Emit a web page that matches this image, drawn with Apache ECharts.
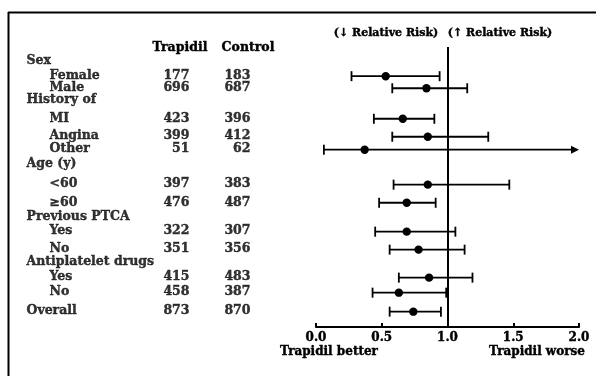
<!DOCTYPE html>
<html>
<head>
<meta charset="utf-8">
<script src="https://cdn.jsdelivr.net/npm/echarts@6/dist/echarts.min.js"></script>
<style>html,body{margin:0;padding:0;background:#fff}#c{width:596px;height:376px}</style>
</head>
<body>
<div id="c"></div>
<script>
// ---- data ----
const rowLabels = ['Sex','Female','Male','History of','MI','Angina','Other','Age (y)','<60','\u226560','Previous PTCA','Yes','No','Antiplatelet drugs','Yes','No','Overall'];
const rowIndent = [0,1,1,0,1,1,1,0,1,1,0,1,1,0,1,1,0];
const rowLine   = [0,0.98,1.8,2.58,3.87,5.09,5.97,6.99,8.34,9.57,10.52,11.53,12.75,13.64,14.65,15.67,16.96];
const trapidilN = [null,177,696,null,423,399,51,null,397,476,null,322,351,null,415,458,873];
const controlN  = [null,183,687,null,396,412,62,null,383,487,null,307,356,null,483,387,870];
const rrPoint = [null,0.53,0.84,null,0.66,0.85,0.37,null,0.85,0.69,null,0.69,0.78,null,0.86,0.63,0.74];
const rrLow   = [null,0.27,0.58,null,0.44,0.58,0.06,null,0.59,0.48,null,0.45,0.56,null,0.63,0.43,0.56];
const rrHigh  = [null,0.94,1.15,null,0.90,1.31,null,null,1.47,0.91,null,1.06,1.13,null,1.19,0.99,0.95]; // null on a data row = extends beyond axis
const xTicks = [0,0.5,1,1.5,2];

const FONT = 'DejaVu Serif';
const INK = '#000';
const xMax = 2;

const nameData = [], trapData = [], ctrlData = [], rrData = [];
rowLabels.forEach((lab,i)=>{
  nameData.push({value:[rowIndent[i] ? 50 : 27, rowLine[i]], name: lab});
  if (trapidilN[i] != null) trapData.push({value:[190, rowLine[i]], name: String(trapidilN[i])});
  if (controlN[i] != null) ctrlData.push({value:[251, rowLine[i]], name: String(controlN[i])});
  if (rrPoint[i] != null) {
    const open = rrHigh[i] == null;
    rrData.push([rowLine[i], rrLow[i], rrPoint[i], open ? xMax : rrHigh[i], open ? 1 : 0]);
  }
});

function textSeries(data, align){
  return {
    type:'scatter', xAxisIndex:0, yAxisIndex:0, symbolSize:1, itemStyle:{color:'rgba(0,0,0,0)'},
    silent:true, data:data,
    label:{show:true, position:[0,0], align:align, verticalAlign:'middle', formatter:p=>p.name,
      fontFamily:FONT, fontWeight:'bold', fontSize:12.5, color:INK,
      textBorderColor:'#000', textBorderWidth:0.4}
  };
}

function renderItem(params, api){
  const y = api.value(0), lo = api.value(1), pt = api.value(2), hi = api.value(3), open = api.value(4);
  const a = api.coord([lo, y]), p = api.coord([pt, y]), b = api.coord([hi, y]);
  const cap = 5;
  const st = {stroke:'#000', lineWidth:1.8};
  const kids = [];
  const endX = open ? b[0]-7 : b[0];
  kids.push({type:'line', shape:{x1:a[0], y1:a[1], x2:endX, y2:b[1]}, style:st});
  kids.push({type:'line', shape:{x1:a[0], y1:a[1]-cap, x2:a[0], y2:a[1]+cap}, style:st});
  if (open) {
    kids.push({type:'polygon', shape:{points:[[b[0]-8,b[1]-4],[b[0],b[1]],[b[0]-8,b[1]+4]]}, style:{fill:'#000'}});
  } else {
    kids.push({type:'line', shape:{x1:b[0], y1:b[1]-cap, x2:b[0], y2:b[1]+cap}, style:st});
  }
  kids.push({type:'circle', shape:{cx:p[0], cy:p[1], r:4.2}, style:{fill:'#000'}});
  return {type:'group', children:kids};
}

const txt = (s, x, y, size) => ({type:'text', x:x, y:y, style:{text:s, align:'center', verticalAlign:'middle',
  font:'bold ' + size + 'px "DejaVu Serif"', fill:INK, stroke:'#000', lineWidth:0.4}});

const chart = echarts.init(document.getElementById('c'), null, {renderer:'canvas'});
chart.setOption({
  backgroundColor:'#fff',
  animation:false,
  grid:[
    {left:0, right:0, top:47, bottom:49},
    {left:316, right:17, top:47, bottom:49}
  ],
  xAxis:[
    {gridIndex:0, type:'value', min:0, max:596, show:false},
    {gridIndex:1, type:'value', min:0, max:xMax, interval:0.5, position:'bottom',
      axisLine:{show:true, onZero:false, lineStyle:{color:'#000', width:2}},
      axisTick:{show:true, inside:true, length:4, lineStyle:{color:'#000', width:2}},
      splitLine:{show:false},
      axisLabel:{margin:5, formatter:v=> xTicks.includes(v) ? v.toFixed(1) : '', fontFamily:FONT, fontWeight:'bold', fontSize:12, color:INK,
        textBorderColor:'#000', textBorderWidth:0.4}
    }
  ],
  yAxis:[
    {gridIndex:0, type:'value', min:-1, max:18, inverse:true, show:false},
    {gridIndex:1, type:'value', min:-1, max:18, inverse:true, show:false}
  ],
  series:[
    textSeries(nameData,'left'),
    textSeries(trapData,'right'),
    textSeries(ctrlData,'right'),
    {
      type:'custom', xAxisIndex:1, yAxisIndex:1, renderItem:renderItem, data:rrData, silent:true,
      encode:{x:[1,2,3], y:0},
      markLine:{silent:true, symbol:'none', label:{show:false},
        lineStyle:{color:'#000', width:2, type:'solid'}, data:[{xAxis:1}]}
    }
  ],
  graphic:[
    {type:'line', shape:{x1:8, y1:12.5, x2:596, y2:12.5}, style:{stroke:'#000', lineWidth:2}},
    {type:'line', shape:{x1:8.5, y1:12, x2:8.5, y2:376}, style:{stroke:'#000', lineWidth:2}},
    txt('Trapidil', 180, 48, 12.5),
    txt('Control', 248, 48, 12.5),
    txt('(\u2193 Relative Risk)', 386, 33, 11),
    txt('(\u2191 Relative Risk)', 500, 33, 11),
    txt('Trapidil better', 329, 352, 12),
    txt('Trapidil worse', 537, 352, 12)
  ]
});
</script>
</body>
</html>
